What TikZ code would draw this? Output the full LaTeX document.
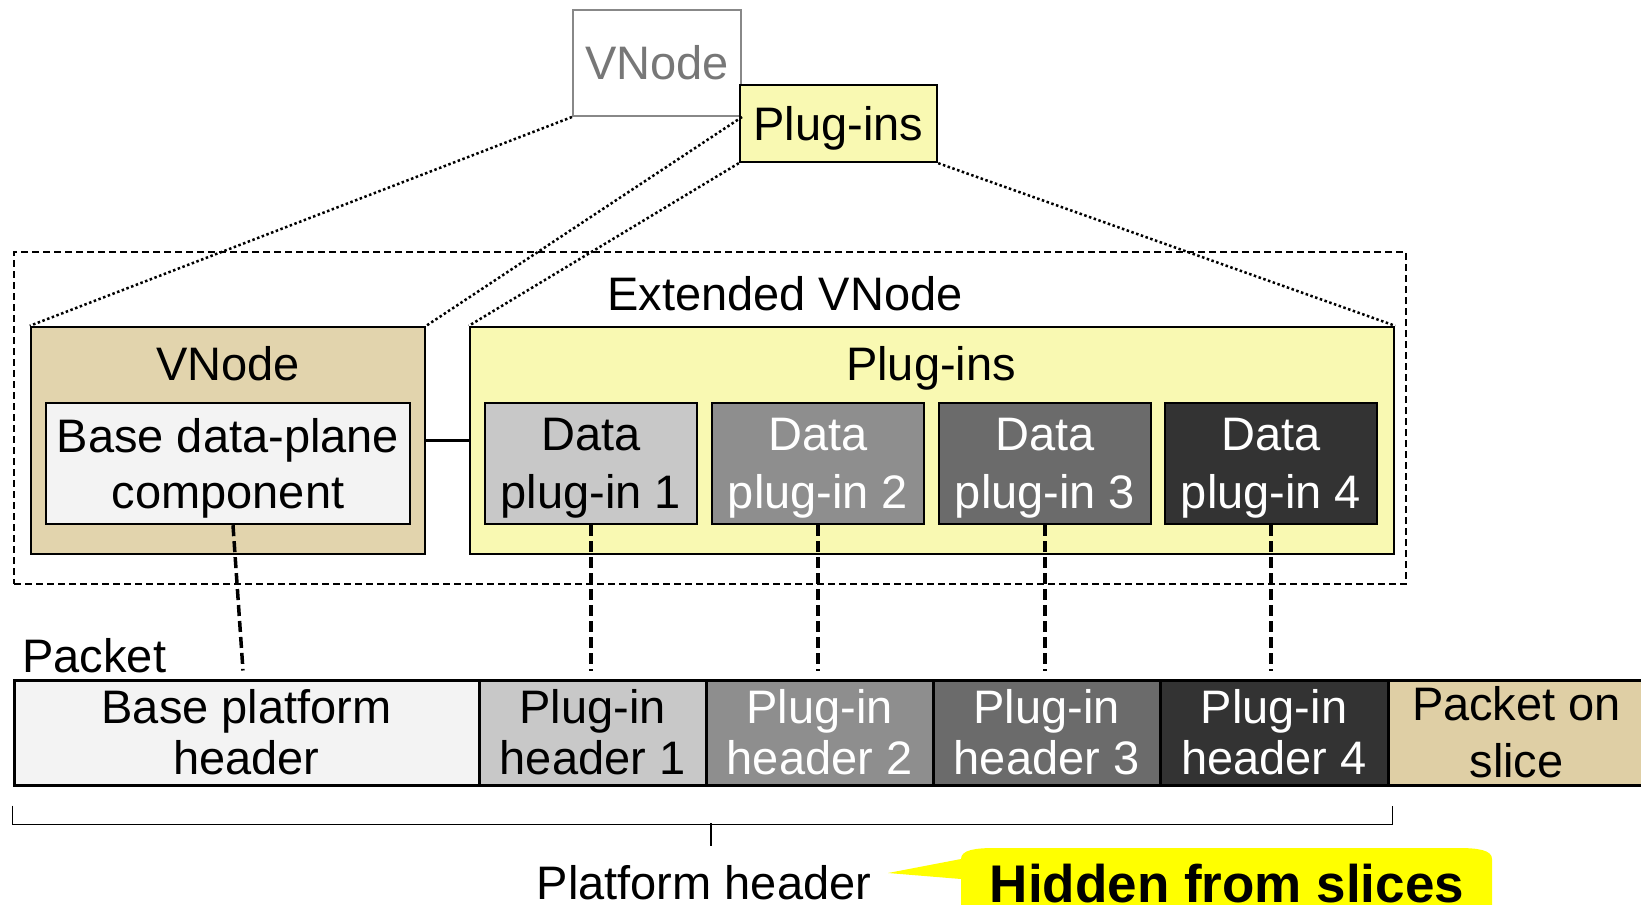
\documentclass[tikz,border=0pt]{standalone}
\usepackage{fontspec}
\setmainfont{Liberation Sans}
\definecolor{tan}{HTML}{E2D4AD}
\definecolor{tanpk}{HTML}{DFCFA5}
\definecolor{plugy}{HTML}{F9F9B2}
\definecolor{basef}{HTML}{F3F3F3}
\definecolor{g1}{HTML}{C8C8C8}
\definecolor{g2}{HTML}{8E8E8E}
\definecolor{g3}{HTML}{6B6B6B}
\definecolor{g4}{HTML}{333333}
\definecolor{callouty}{HTML}{FFFF00}
\definecolor{greyline}{HTML}{888888}
\definecolor{greytext}{HTML}{777777}
\begin{document}
\begin{tikzpicture}[x=0.5pt,y=-0.5pt,font=\fontsize{23.5}{27.5}\selectfont]
\useasboundingbox (0,0) rectangle (1641,904);
\tikzset{
  lbl/.style={inner sep=0pt},
  dbox/.style={draw=black, line width=1.2pt, minimum width=106pt, minimum height=60.5pt, inner sep=0pt, align=center, text depth=0pt, font=\fontsize{23.5}{29}\selectfont},
  hbox/.style={draw=black, line width=1.5pt, minimum height=52.5pt, inner sep=0pt, align=center, font=\fontsize{23.5}{25.5}\selectfont},
  dotl/.style={line width=1.25pt, dash pattern=on 1.25pt off 1.25pt},
  dashl/.style={line width=1.75pt, dash pattern=on 5.5pt off 2.5pt},
  bigbox/.style={draw=black, line width=1.2pt, minimum width=#1, minimum height=113.5pt, inner sep=0pt},
}
% extended vnode dashed frame
\node[draw=black, line width=1.2pt, dash pattern=on 3.5pt off 2pt, minimum width=696pt, minimum height=166pt, inner sep=0pt] (ext) at (710,418) {};
\node[lbl] (extl) at (785,294) {Extended VNode};

% vnode (tan)
\node[bigbox=197pt, fill=tan] (vnode) at (228,440.5) {};
\node[lbl, anchor=base] (vnodel) at (228,380) {VNode};
\node[draw=black, line width=1.2pt, fill=basef, minimum width=182pt, minimum height=60.5pt, inner sep=0pt, align=center, text depth=0pt, font=\fontsize{23.5}{28}\selectfont] (base) at (228,463.5) {Base data-plane\\component};

% plug-ins (yellow)
\node[bigbox=462pt, fill=plugy] (plug) at (932,440.5) {};
\node[lbl, anchor=base] (plugl) at (931,380) {Plug-ins};
\node[dbox, fill=g1] (d1) at (591,463.5) {Data\\plug-in 1};
\node[dbox, fill=g2, text=white] (d2) at (818,463.5) {Data\\plug-in 2};
\node[dbox, fill=g3, text=white] (d3) at (1045,463.5) {Data\\plug-in 3};
\node[dbox, fill=g4, text=white] (d4) at (1271,463.5) {Data\\plug-in 4};
\draw[line width=1.2pt] (vnode.east) -- (plug.west);

% top boxes
\node[draw=greyline, line width=1pt, fill=white, text=greytext, minimum width=84pt, minimum height=53pt, inner sep=0pt] (topv) at (657,63) {VNode};
\node[draw=black, line width=1.2pt, fill=plugy, minimum width=98.5pt, minimum height=38.5pt, inner sep=0pt, text depth=0pt] (topp) at (838.5,123.5) {Plug-ins};

% projection lines
\draw[dotl] (topv.south west) -- (vnode.north west);
\draw[dotl] (topv.south east) -- (vnode.north east);
\draw[dotl] (topp.south west) -- (plug.north west);
\draw[dotl] (topp.south east) -- (plug.north east);

% packet
\node[lbl, anchor=west] (pktl) at (22,656) {Packet};
\node[hbox, fill=basef, minimum width=232.5pt] (pb) at (246.5,732.5) {Base platform\\header};
\node[hbox, fill=g1, minimum width=113.5pt] (h1) at (592.5,732.5) {Plug-in\\header 1};
\node[hbox, fill=g2, text=white, minimum width=113.5pt] (h2) at (819.5,732.5) {Plug-in\\header 2};
\node[hbox, fill=g3, text=white, minimum width=113.5pt] (h3) at (1046.5,732.5) {Plug-in\\header 3};
\node[hbox, fill=g4, text=white, minimum width=114pt] (h4) at (1274,732.5) {Plug-in\\header 4};
\node[hbox, fill=tanpk, minimum width=128.5pt, font=\fontsize{23.5}{28.5}\selectfont] (ps) at (1516.5,732.5) {Packet on\\slice};

% dashed mapping lines
\draw[dashl] ([xshift=2.5pt]base.south) -- ([xshift=-1.75pt,yshift=4pt]pb.north);
\draw[dashl] (d1.south) -- ([yshift=4pt]d1.south |- h1.north);
\draw[dashl] (d2.south) -- ([yshift=4pt]d2.south |- h2.north);
\draw[dashl] (d3.south) -- ([yshift=4pt]d3.south |- h3.north);
\draw[dashl] (d4.south) -- ([yshift=4pt]d4.south |- h4.north);

% bracket
\coordinate (bl) at ([yshift=-9.5pt]pb.south west);
\coordinate (br) at ([xshift=1.5pt,yshift=-9.5pt]h4.south east);
\draw[line width=0.75pt] (bl) -- ++(0,19) -| (br);
\coordinate (bm) at (711,823);
\node[lbl, anchor=base] (ph) at (704,899) {Platform header};
\draw[line width=0.75pt] (bm) -- (bm |- 0,846);

% callout
\fill[callouty] (888,873) -- (961,859) .. controls (961,850) and (975,848) .. (995,848) -- (1458,848) .. controls (1478,848) and (1492,850) .. (1492,859) -- (1492,915) -- (961,915) -- (961,879) -- cycle;
\node[lbl, anchor=base, font=\fontsize{26.5}{30}\selectfont\bfseries] (hid) at (1227,902) {Hidden from slices};
\end{tikzpicture}
\end{document}
